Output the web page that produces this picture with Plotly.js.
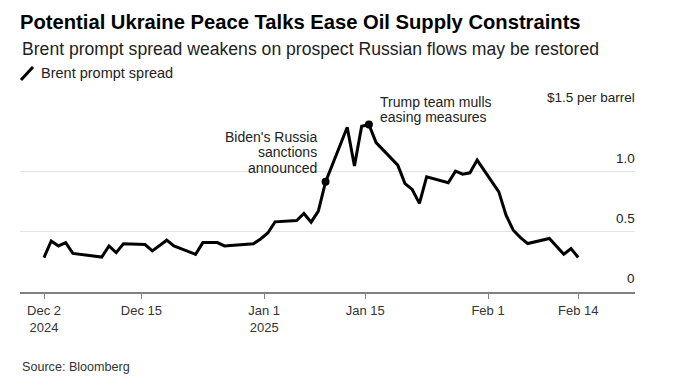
<!DOCTYPE html>
<html>
<head>
<meta charset="utf-8">
<script src="https://cdn.plot.ly/plotly-3.0.1.min.js"></script>
<style>html,body{margin:0;padding:0;background:#fff;}#chart{width:673px;height:383px;}</style>
</head>
<body>
<div id="chart"></div>
<script>
// Brent prompt spread ($ per barrel)
const dates = [
  "2024-12-02","2024-12-03","2024-12-04","2024-12-05","2024-12-06",
  "2024-12-09","2024-12-10","2024-12-11","2024-12-12","2024-12-13",
  "2024-12-16","2024-12-17","2024-12-18","2024-12-19","2024-12-20",
  "2024-12-23","2024-12-24","2024-12-26","2024-12-27",
  "2024-12-30","2024-12-31","2025-01-01","2025-01-02","2025-01-03",
  "2025-01-06","2025-01-07","2025-01-08","2025-01-09","2025-01-10",
  "2025-01-13","2025-01-14","2025-01-15","2025-01-16","2025-01-17",
  "2025-01-20","2025-01-21","2025-01-22","2025-01-23","2025-01-24",
  "2025-01-27","2025-01-28","2025-01-29","2025-01-30","2025-01-31",
  "2025-02-03","2025-02-04","2025-02-05","2025-02-06","2025-02-07",
  "2025-02-10","2025-02-11","2025-02-12","2025-02-13","2025-02-14"
];
const spread = [
  0.286,0.424,0.382,0.410,0.320,
  0.298,0.290,0.382,0.327,0.400,
  0.394,0.341,0.386,0.430,0.382,
  0.313,0.410,0.410,0.382,
  0.396,0.400,0.440,0.490,0.582,
  0.593,0.652,0.580,0.672,0.914,
  1.367,1.045,1.375,1.390,1.240,
  1.053,0.900,0.851,0.735,0.956,
  0.906,1.003,0.978,0.989,1.095,
  0.831,0.638,0.513,0.452,0.402,
  0.444,0.380,0.313,0.361,0.286
];
const eventDates = ["2025-01-10","2025-01-16"];
const eventValues = eventDates.map(d => spread[dates.indexOf(d)]);

const xTickVals = ["2024-12-02","2024-12-15 12:00","2025-01-01 12:00","2025-01-15 12:00","2025-02-01 12:00","2025-02-14"];
const xTickText = ["Dec 2<br>2024","Dec 15","Jan 1<br>2025","Jan 15","Feb 1","Feb 14"];
const yTickVals = [0, 0.5, 1.0, 1.5];
const yTickText = ["0","0.5","1.0","$1.5 per barrel"];

const FONT = "Liberation Sans, Arial, sans-serif";

const traces = [
  {
    x: dates, y: spread, type: "scatter", mode: "lines",
    line: {color: "#000000", width: 3}, name: "Brent prompt spread",
    hoverinfo: "x+y", showlegend: false
  },
  {
    x: eventDates, y: eventValues, type: "scatter", mode: "markers",
    marker: {color: "#000000", size: 8}, showlegend: false, hoverinfo: "skip"
  }
];

const yLabelAnnotations = yTickVals.map((v, i) => ({
  text: yTickText[i], xref: "paper", yref: "y", x: 1, y: v,
  xanchor: "right", yanchor: "middle", xshift: 2, yshift: 13.4,
  showarrow: false, font: {family: FONT, size: 13.5, color: "#222222"}
}));

const layout = {
  width: 673, height: 383,
  margin: {l: 20, r: 38, t: 110.9, b: 91.3, pad: 0},
  paper_bgcolor: "#ffffff", plot_bgcolor: "#ffffff",
  font: {family: FONT, size: 13, color: "#333333"},
  title: {
    text: "<b>Potential Ukraine Peace Talks Ease Oil Supply Constraints</b>",
    font: {family: FONT, size: 20.2, color: "#000000"},
    xref: "container", yref: "container",
    x: 20/673, xanchor: "left", y: 1 - 22/383, yanchor: "middle"
  },
  xaxis: {
    type: "date",
    range: ["2024-11-28 16:13", "2025-02-21 20:40"],
    tickmode: "array", tickvals: xTickVals, ticktext: xTickText,
    showgrid: false, zeroline: false,
    showline: true, linecolor: "#808080", linewidth: 2,
    ticks: "outside", ticklen: 5, tickwidth: 1, tickcolor: "#808080",
    tickfont: {family: FONT, size: 13, color: "#333333"},
    fixedrange: true
  },
  yaxis: {
    range: [0, 1.502], side: "right",
    tickmode: "array", tickvals: yTickVals,
    showticklabels: false,
    showgrid: true, gridcolor: "#e3e3e3", gridwidth: 1,
    zeroline: false, showline: false, ticks: "",
    fixedrange: true
  },
  shapes: [
    {type: "line", xref: "paper", yref: "paper",
     x0: 0.0016, y0: 1.1715, x1: 0.0211, y1: 1.2435,
     line: {color: "#000000", width: 3}}
  ],
  annotations: [
    {text: "Brent prompt spread weakens on prospect Russian flows may be restored",
     xref: "paper", yref: "paper", x: 0, y: (291.7-49)/180.7, xanchor: "left", yanchor: "middle",
     showarrow: false, font: {family: FONT, size: 17.6, color: "#222222"}},
    {text: "Brent prompt spread",
     xref: "paper", yref: "paper", x: 19/615, y: (291.7-73.5)/180.7, xanchor: "left", yanchor: "middle",
     showarrow: false, font: {family: FONT, size: 14.5, color: "#222222"}},
    {text: "Source: Bloomberg",
     xref: "paper", yref: "paper", x: 0, y: (291.7-367)/180.7, xanchor: "left", yanchor: "middle",
     showarrow: false, font: {family: FONT, size: 12.6, color: "#333333"}},
    {text: "Biden's Russia", x: eventDates[0], y: eventValues[0], xanchor: "right", yanchor: "middle",
     xshift: -7, yshift: 44.5, showarrow: false, font: {family: FONT, size: 14, color: "#222222"}},
    {text: "sanctions", x: eventDates[0], y: eventValues[0], xanchor: "right", yanchor: "middle",
     xshift: -7, yshift: 29.5, showarrow: false, font: {family: FONT, size: 14, color: "#222222"}},
    {text: "announced", x: eventDates[0], y: eventValues[0], xanchor: "right", yanchor: "middle",
     xshift: -7, yshift: 14, showarrow: false, font: {family: FONT, size: 14, color: "#222222"}},
    {text: "Trump team mulls", x: eventDates[1], y: eventValues[1], xanchor: "left", yanchor: "middle",
     xshift: 9, yshift: 22.5, showarrow: false, font: {family: FONT, size: 14, color: "#222222"}},
    {text: "easing measures", x: eventDates[1], y: eventValues[1], xanchor: "left", yanchor: "middle",
     xshift: 9, yshift: 7.5, showarrow: false, font: {family: FONT, size: 14, color: "#222222"}}
  ].concat(yLabelAnnotations),
  showlegend: false
};

Plotly.newPlot("chart", traces, layout, {displayModeBar: false, staticPlot: true});
</script>
</body>
</html>
